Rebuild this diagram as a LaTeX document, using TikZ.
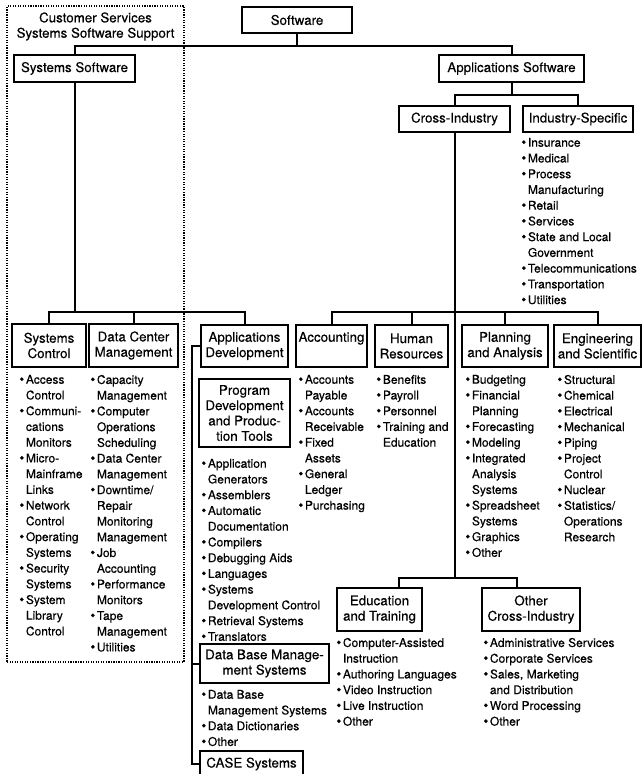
\documentclass[tikz,border=0pt]{standalone}
\usepackage{fontspec}
\setmainfont{TeX Gyre Heros}[FakeBold=0.35]
\newcommand\bul{\makebox[5pt][l]{\raisebox{-0.4pt}{\fontsize{11}{11}\selectfont\textbullet}}}
\newcommand\cnt{\hspace*{5pt}}
\begin{document}
\begin{tikzpicture}[x=0.75pt,y=-0.75pt,
  box/.style={draw, line width=1.6pt, inner sep=0pt, align=center, font=\fontsize{10}{11.5}\selectfont},
  bx/.style 2 args={minimum width=#1*0.75pt, minimum height=#2*0.75pt},
  conn/.style={line width=1.5pt},
  lst/.style={inner sep=0pt, anchor=north west, align=left, font=\fontsize{9}{11.8}\selectfont},
  frame/.style={draw, densely dotted, line width=0.9pt, inner sep=0pt},
  ttl/.style={inner sep=0pt, align=center, font=\fontsize{10}{11.5}\selectfont}]
\useasboundingbox[fill=white] (0,0) rectangle (643,774);

% group frame
\node[frame, bx={177}{656}] (csframe) at (95.5,334) {};
\node[ttl] (cstitle) at (95.5,26.5) {Customer Services\\Systems Software Support};

% boxes
\node[box, bx={110}{26}] (sw) at (297,20) {Software};
\node[box, bx={121}{27}] (syssw) at (74.5,68.5) {Systems Software};
\node[box, bx={145}{27}] (appsw) at (511.5,68.5) {Applications Software};
\node[box, bx={111}{26}] (cross) at (454.5,119) {Cross-Industry};
\node[box, bx={110}{26}] (indsp) at (578,119) {Industry-Specific};
\node[box, bx={74}{43}] (sysctl) at (49,345.5) {Systems\\Control};
\node[box, bx={89}{43}] (dcm) at (133.5,345.5) {Data Center\\Management};
\node[box, bx={87}{42}] (appdev) at (244.5,346) {Applications\\Development};
\node[box, bx={71}{42}] (acct) at (331.5,346) {Accounting\\\vphantom{Ag}};
\node[box, bx={73}{42}] (hr) at (411.5,346) {Human\\Resources};
\node[box, bx={86}{42}] (plan) at (505,346) {Planning\\and Analysis};
\node[box, bx={87}{42}] (eng) at (597.5,346) {Engineering\\and Scientific};
\node[box, bx={91}{68}] (progdev) at (244.5,413) {Program\\Development\\and Produc-\\tion Tools};
\node[box, bx={129}{39}] (dbms) at (264.5,663.5) {Data Base Manage-\\ment Systems};
\node[box, bx={103}{26}] (case) at (251.5,764) {CASE Systems};
\node[box, bx={85}{43}] (edu) at (379.5,609.5) {Education\\and Training};
\node[box, bx={98}{43}] (oth) at (531,609.5) {Other\\Cross-Industry};

% connectors
\coordinate (topbar) at (0,46);
\draw[conn] (sw.south) -- (sw.south |- topbar);
\draw[conn] (syssw.north) -- (syssw.north |- topbar) -- (appsw.north |- topbar) -- (appsw.north);

\coordinate (asbar) at (0,95);
\draw[conn] (appsw.south) -- (appsw.south |- asbar);
\draw[conn] (cross.north) -- (cross.north |- asbar) -- (indsp.north |- asbar) -- (indsp.north);

\coordinate (ssbar) at (0,312);
\draw[conn] (syssw.south) -- (syssw.south |- ssbar);
\draw[conn] (sysctl.north) -- (sysctl.north |- ssbar) -- (appdev.north |- ssbar) -- (appdev.north);
\draw[conn] (dcm.north) -- (dcm.north |- ssbar);

\coordinate (cibar) at (0,312);
\draw[conn] (acct.north) -- (acct.north |- cibar) -- (eng.north |- cibar) -- (eng.north);
\draw[conn] (hr.north) -- (hr.north |- cibar);
\draw[conn] (plan.north) -- (plan.north |- cibar);

\coordinate (edj) at (399,578);
\coordinate (otj) at (517,578);
\draw[conn] (cross.south) -- (cross.south |- edj);
\draw[conn] (edj |- edu.north) -- (edj) -- (otj) -- (otj |- oth.north);

\coordinate (adl) at (192,0);
\draw[conn] (appdev.west) -- (appdev.west -| adl) -- (case.west -| adl) -- (case.west);
\draw[conn] (dbms.west -| adl) -- (dbms.west);

% lists
\node[lst] (indl) at (521,137.7) {\bul Insurance\\\bul Medical\\\bul Process\\\cnt Manufacturing\\\bul Retail\\\bul Services\\\bul State and Local\\\cnt Government\\\bul Telecommunications\\\bul Transportation\\\bul Utilities};
\node[lst] (scl) at (19,374.7) {\bul Access\\\cnt Control\\\bul Communi-\\\cnt cations\\\cnt Monitors\\\bul Micro-\\\cnt Mainframe\\\cnt Links\\\bul Network\\\cnt Control\\\bul Operating\\\cnt Systems\\\bul Security\\\cnt Systems\\\bul System\\\cnt Library\\\cnt Control};
\node[lst] (dcl) at (90,374.7) {\bul Capacity\\\cnt Management\\\bul Computer\\\cnt Operations\\\cnt Scheduling\\\bul Data Center\\\cnt Management\\\bul Downtime/\\\cnt Repair\\\cnt Monitoring\\\cnt Management\\\bul Job\\\cnt Accounting\\\bul Performance\\\cnt Monitors\\\bul Tape\\\cnt Management\\\bul Utilities};
\node[lst] (pdl) at (201,458.7) {\bul Application\\\cnt Generators\\\bul Assemblers\\\bul Automatic\\\cnt Documentation\\\bul Compilers\\\bul Debugging Aids\\\bul Languages\\\bul Systems\\\cnt Development Control\\\bul Retrieval Systems\\\bul Translators};
\node[lst] (dbl) at (201,689.7) {\bul Data Base\\\cnt Management Systems\\\bul Data Dictionaries\\\bul Other};
\node[lst] (acl) at (298,374.7) {\bul Accounts\\\cnt Payable\\\bul Accounts\\\cnt Receivable\\\bul Fixed\\\cnt Assets\\\bul General\\\cnt Ledger\\\bul Purchasing};
\node[lst] (hrl) at (376,374.7) {\bul Benefits\\\bul Payroll\\\bul Personnel\\\bul Training and\\\cnt Education};
\node[lst] (pll) at (465,374.7) {\bul Budgeting\\\bul Financial\\\cnt Planning\\\bul Forecasting\\\bul Modeling\\\bul Integrated\\\cnt Analysis\\\cnt Systems\\\bul Spreadsheet\\\cnt Systems\\\bul Graphics\\\bul Other};
\node[lst] (enl) at (557,374.7) {\bul Structural\\\bul Chemical\\\bul Electrical\\\bul Mechanical\\\bul Piping\\\bul Project\\\cnt Control\\\bul Nuclear\\\bul Statistics/\\\cnt Operations\\\cnt Research};
\node[lst] (edl) at (336,637.7) {\bul Computer-Assisted\\\cnt Instruction\\\bul Authoring Languages\\\bul Video Instruction\\\bul Live Instruction\\\bul Other};
\node[lst] (otl) at (483,637.7) {\bul Administrative Services\\\bul Corporate Services\\\bul Sales, Marketing\\\cnt and Distribution\\\bul Word Processing\\\bul Other};
\end{tikzpicture}
\end{document}
